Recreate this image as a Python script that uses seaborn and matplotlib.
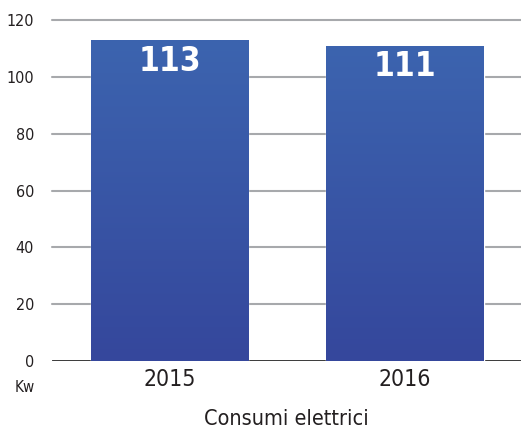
import numpy as np
import pandas as pd
import matplotlib
matplotlib.use("Agg")
import matplotlib.pyplot as plt
import seaborn as sns
from matplotlib.colors import LinearSegmentedColormap

years = ["2015", "2016"]
values = [113, 111]
yticks = [0, 20, 40, 60, 80, 100, 120]
xlabel = "Consumi elettrici"
unit = "Kw"

sns.set_style("white")
plt.rcParams["font.family"] = ["DejaVu Sans"]
plt.rcParams["font.stretch"] = "condensed"
TXT = "#231F20"

fig = plt.figure(figsize=(5.21, 4.29), dpi=100)
ax = fig.add_axes([52/521, 68/429, 1 - 52/521, (361-20)/429])

df = pd.DataFrame({"year": years, "value": values})
sns.barplot(data=df, x="year", y="value", ax=ax, color="#3A58A8", width=0.667,
            saturation=1, zorder=3)

ax.set_ylim(0, 120)
ax.set_xlim(-0.499, 1.4926)
ax.set_yticks(yticks)
ax.set_yticklabels([str(t) for t in yticks], fontsize=11.5, color=TXT,
                   fontstretch="condensed")
ax.set_xticks(range(len(years)))
ax.set_xticklabels(years, fontsize=16.5, color=TXT, fontstretch="condensed")
ax.tick_params(axis="y", length=0, pad=13)
ax.tick_params(axis="x", length=0, pad=5)

for t in yticks[1:]:
    ax.axhline(t, color="#A7A9AC", lw=1.5, zorder=1, clip_on=False)
ax.axhline(0, color="black", lw=1.8, zorder=2)

for s in ax.spines.values():
    s.set_visible(False)

# gradient fill
cmap = LinearSegmentedColormap.from_list("g", ["#3C64AF", "#35479C"])
grad = np.linspace(0, 1, 256).reshape(-1, 1)
for p in ax.patches:
    x0 = p.get_x(); w = p.get_width(); h = p.get_height()
    im = ax.imshow(grad, cmap=cmap, aspect="auto", extent=(x0, x0 + w, 0, h),
                   origin="upper", zorder=4)
    im.set_clip_path(p)
    ax.text(x0 + w/2, h - 7.5, f"{int(round(h))}", ha="center", va="center",
            color="white", fontsize=24, fontweight="bold", fontstretch="condensed",
            zorder=5)
ax.set_xlim(-0.499, 1.4926)
ax.set_ylim(0, 120)

ax.set_xlabel(xlabel, fontsize=15.5, color=TXT, labelpad=13, fontstretch="condensed")
ax.set_ylabel("")
fig.text(25/521, 1 - 387/429, unit, ha="center", va="center", fontsize=11,
         color=TXT, fontstretch="condensed")

fig.savefig("out.png", dpi=100)
